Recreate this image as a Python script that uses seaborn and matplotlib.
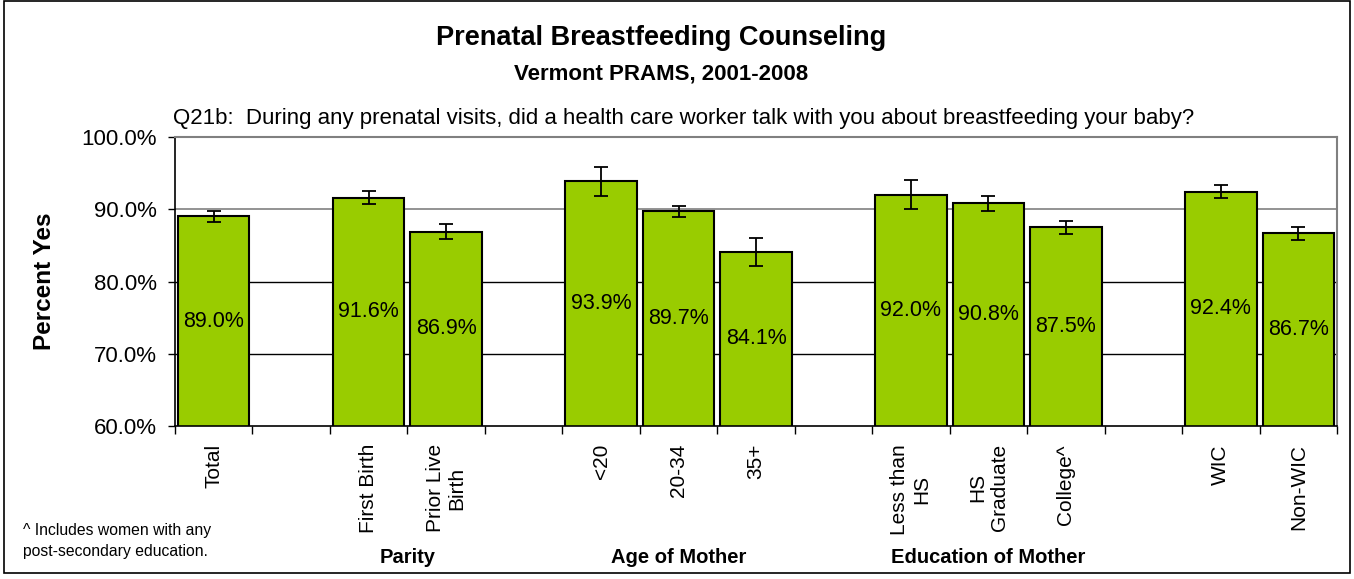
import matplotlib
matplotlib.use("Agg")
import matplotlib.pyplot as plt
import numpy as np
import pandas as pd
import seaborn as sns
from matplotlib.patches import Rectangle
from matplotlib.ticker import FuncFormatter

# data
slots = ["Total", "gap1", "First Birth", "Prior Live\nBirth", "gap2",
         "<20", "20-34", "35+", "gap3",
         "Less than\nHS", "HS\nGraduate", "College^", "gap4", "WIC", "Non-WIC"]
categories = ["Total", "First Birth", "Prior Live\nBirth", "<20", "20-34", "35+",
              "Less than\nHS", "HS\nGraduate", "College^", "WIC", "Non-WIC"]
values = [89.0, 91.6, 86.9, 93.9, 89.7, 84.1, 92.0, 90.8, 87.5, 92.4, 86.7]
err = [0.7, 0.9, 1.0, 2.0, 0.75, 1.9, 2.0, 1.1, 0.9, 0.9, 0.9]
groups = ["Parity", "Age of Mother", "Education of Mother"]
group_pos = [2.5, 6.0, 10.0]

df = pd.DataFrame({"cat": categories, "val": values, "err": err})

sns.set_theme(style="white")
plt.rcParams["font.family"] = ["Liberation Sans", "DejaVu Sans"]
plt.rcParams["text.color"] = "black"
plt.rcParams["axes.labelcolor"] = "black"
plt.rcParams["xtick.color"] = "black"
plt.rcParams["ytick.color"] = "black"

fig = plt.figure(figsize=(13.54, 5.79), dpi=100)
ax = fig.add_axes([0.1292, 0.2642, 0.8583, 0.4992])

sns.barplot(data=df, x="cat", y="val", order=slots, color="#99CC00",
            saturation=1, width=0.92, edgecolor="black", linewidth=1.5,
            errorbar=None, ax=ax)

xpos = [slots.index(c) for c in df["cat"]]
ax.errorbar(xpos, df["val"], yerr=df["err"], fmt="none", ecolor="black",
            elinewidth=1.3, capsize=5, capthick=1.3, zorder=5)

for x, v in zip(xpos, df["val"]):
    ax.text(x, (60 + v) / 2, f"{v:.1f}%", ha="center", va="center",
            fontsize=15.5, color="black", zorder=6)

ax.set_ylim(60, 100)
ax.set_xlim(-0.5, len(slots) - 0.5)
ax.set_yticks([60, 70, 80, 90, 100])
ax.yaxis.set_major_formatter(FuncFormatter(lambda v, p: f"{v:.1f}%"))
for g in [70, 80]:
    ax.axhline(g, color="black", lw=1, zorder=0)
ax.axhline(90, color="#808080", lw=1.2, zorder=0)

ax.set_xticks(range(len(slots)))
ax.set_xticklabels(["" if s.startswith("gap") else s for s in slots],
                   rotation=90, fontsize=15, va="top", ha="center",
                   multialignment="center")
ax.set_xticks(np.arange(-0.5, len(slots), 1), minor=True)
ax.tick_params(axis="x", which="major", length=0, pad=13)
ax.tick_params(axis="x", which="minor", length=6, width=1, color="black",
               direction="out", bottom=True)
ax.tick_params(axis="y", length=5, width=1, color="black", left=True,
               direction="out", labelsize=16, pad=8)
ax.set_xlabel("")
ax.set_ylabel("Percent Yes", fontsize=17.5, fontweight="bold", labelpad=18)

for side in ["left", "bottom"]:
    ax.spines[side].set_color("black")
    ax.spines[side].set_linewidth(1.2)
for side in ["top", "right"]:
    ax.spines[side].set_color("#808080")
    ax.spines[side].set_linewidth(1.5)

# group labels under the tick labels
for g, p in zip(groups, group_pos):
    ax.text(p, -0.455, g, transform=ax.get_xaxis_transform(), ha="center",
            va="center", fontsize=14.5, fontweight="bold")

fig.text(0.488, 0.934, "Prenatal Breastfeeding Counseling", ha="center",
         va="center", fontsize=19.5, fontweight="bold")
fig.text(0.488, 0.873, "Vermont PRAMS, 2001-2008", ha="center", va="center",
         fontsize=16, fontweight="bold")
fig.text(0.1275, 0.795, "Q21b:  During any prenatal visits, did a health care worker talk with you about breastfeeding your baby?",
         ha="left", va="center", fontsize=16)
fig.text(0.017, 0.066, "^ Includes women with any\npost-secondary education.",
         ha="left", va="center", fontsize=11.3, linespacing=1.5)

fig.patches.append(Rectangle((0.003, 0.01), 0.994, 0.988, transform=fig.transFigure,
                             fill=False, edgecolor="black", linewidth=1.2))

fig.savefig("out.png", dpi=100)
